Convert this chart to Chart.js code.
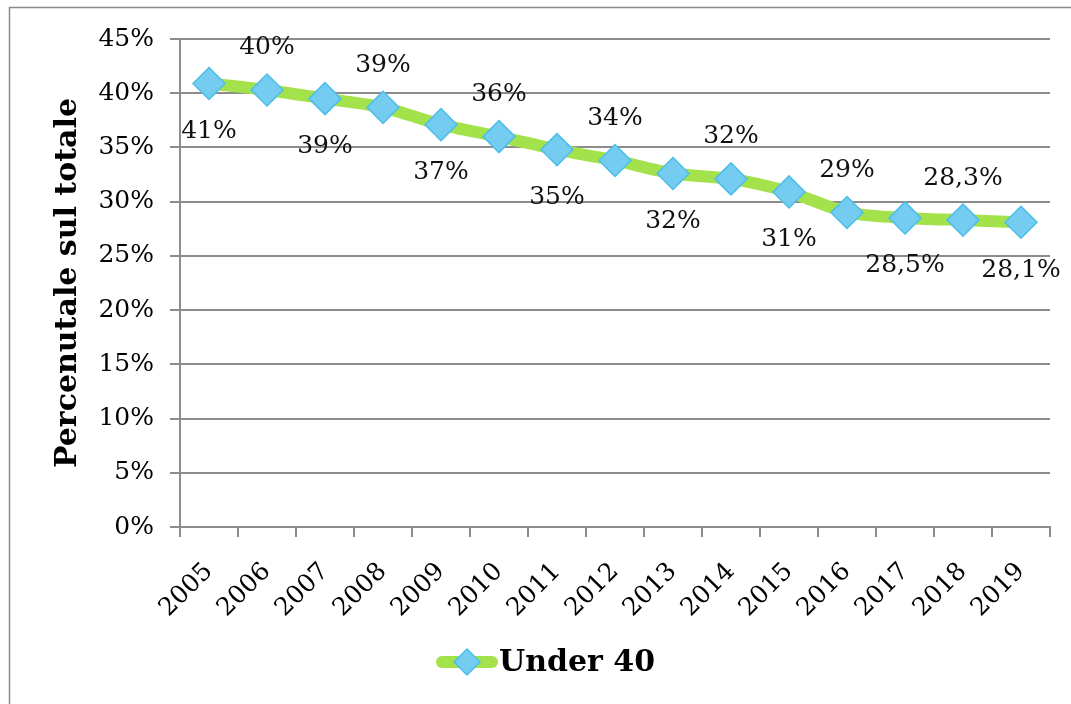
<!DOCTYPE html>
<html>
<head>
<meta charset="utf-8">
<script src="https://cdn.jsdelivr.net/npm/chart.js@4"></script>
<style>
  html, body { margin: 0; padding: 0; background: #fff; }
  #wrap { width: 1071px; height: 704px; position: relative; }
</style>
</head>
<body>
<div id="wrap"><canvas id="usageChart"></canvas></div>
<script>
const years = ['2005', '2006', '2007', '2008', '2009', '2010', '2011', '2012', '2013', '2014', '2015', '2016', '2017', '2018', '2019'];
const under40 = [40.9, 40.3, 39.5, 38.7, 37.1, 36.0, 34.8, 33.8, 32.6, 32.1, 30.9, 29.0, 28.5, 28.3, 28.1];
const valueLabels = ['41%', '40%', '39%', '39%', '37%', '36%', '35%', '34%', '32%', '32%', '31%', '29%', '28,5%', '28,3%', '28,1%'];
const yTicks = [0, 5, 10, 15, 20, 25, 30, 35, 40, 45];
const seriesName = 'Under 40';

const serif = "'DejaVu Serif', serif";
const gridColor = '#8c8c8c';
const lineGreen = '#a4e24c';
const diamondFill = '#74cdf1';
const diamondBorder = '#4dbde9';

// labels alternate: below for even index, above for odd
const labelPlugin = {
  id: 'valueLabels',
  afterDatasetsDraw(chart) {
    const ctx = chart.ctx;
    const meta = chart.getDatasetMeta(0);
    ctx.save();
    ctx.font = '25px ' + serif;
    ctx.fillStyle = '#111';
    ctx.textAlign = 'center';
    ctx.textBaseline = 'middle';
    meta.data.forEach((pt, i) => {
      const dy = i % 2 === 0 ? 48 : -42;
      ctx.fillText(valueLabels[i], pt.x, pt.y + dy);
    });
    ctx.restore();
  }
};

const framePlugin = {
  id: 'frame',
  beforeDraw(chart) {
    const ctx = chart.ctx;
    ctx.save();
    ctx.strokeStyle = '#8c8c8c';
    ctx.lineWidth = 1.5;
    ctx.strokeRect(9.5, 7.5, 1200, 1000);
    ctx.restore();
  },
  afterDraw(chart) {
    // legend: thick line with diamond, then bold series name
    const ctx = chart.ctx;
    const cy = 662;
    ctx.save();
    ctx.strokeStyle = lineGreen;
    ctx.lineWidth = 12;
    ctx.lineCap = 'round';
    ctx.beginPath();
    ctx.moveTo(442, cy);
    ctx.lineTo(492, cy);
    ctx.stroke();
    ctx.fillStyle = diamondFill;
    ctx.strokeStyle = diamondBorder;
    ctx.lineWidth = 1.5;
    ctx.beginPath();
    ctx.moveTo(467, cy - 13);
    ctx.lineTo(480, cy);
    ctx.lineTo(467, cy + 13);
    ctx.lineTo(454, cy);
    ctx.closePath();
    ctx.fill();
    ctx.stroke();
    ctx.fillStyle = '#000';
    ctx.font = 'bold 30px ' + serif;
    ctx.textAlign = 'left';
    ctx.textBaseline = 'middle';
    ctx.fillText(chart.data.datasets[0].label, 499, cy + 1);
    ctx.restore();
  }
};

const ctx = document.getElementById('usageChart').getContext('2d');
const chart = new Chart(ctx, {
  type: 'line',
  data: {
    labels: years,
    datasets: [{
      label: seriesName,
      data: under40,
      borderColor: lineGreen,
      borderWidth: 12,
      tension: 0.25,
      pointStyle: 'rectRot',
      pointRadius: 16,
      pointHoverRadius: 16,
      pointBackgroundColor: diamondFill,
      pointBorderColor: diamondBorder,
      pointBorderWidth: 1.5
    }]
  },
  options: {
    responsive: true,
    maintainAspectRatio: false,
    animation: false,
    layout: { padding: { left: 0, right: 21, top: 39, bottom: 0 } },
    plugins: {
      legend: { display: false },
      tooltip: { enabled: false }
    },
    scales: {
      x: {
        offset: true,
        grid: { offset: true, drawOnChartArea: false, drawTicks: true, tickLength: 10, color: gridColor, lineWidth: 2 },
        border: { color: gridColor, width: 2 },
        ticks: { color: '#000', font: { family: serif, size: 25 }, minRotation: 45, maxRotation: 45, padding: 20 },
        afterFit(scale) { scale.height = 177; }
      },
      y: {
        min: 0,
        max: 45,
        afterBuildTicks(scale) { scale.ticks = yTicks.map(v => ({ value: v })); },
        grid: { color: gridColor, lineWidth: 2, tickLength: 10 },
        border: { color: gridColor, width: 2 },
        ticks: { color: '#000', font: { family: serif, size: 25 }, padding: 16, callback: v => v + '%' },
        title: {
          display: true,
          text: 'Percenutale sul totale',
          color: '#000',
          font: { family: serif, size: 30, weight: 'bold' },
          padding: { top: 50, bottom: 0 }
        },
        afterFit(scale) { scale.width = 180; }
      }
    }
  },
  plugins: [labelPlugin, framePlugin]
});
window.usageChart = chart;
</script>
</body>
</html>
